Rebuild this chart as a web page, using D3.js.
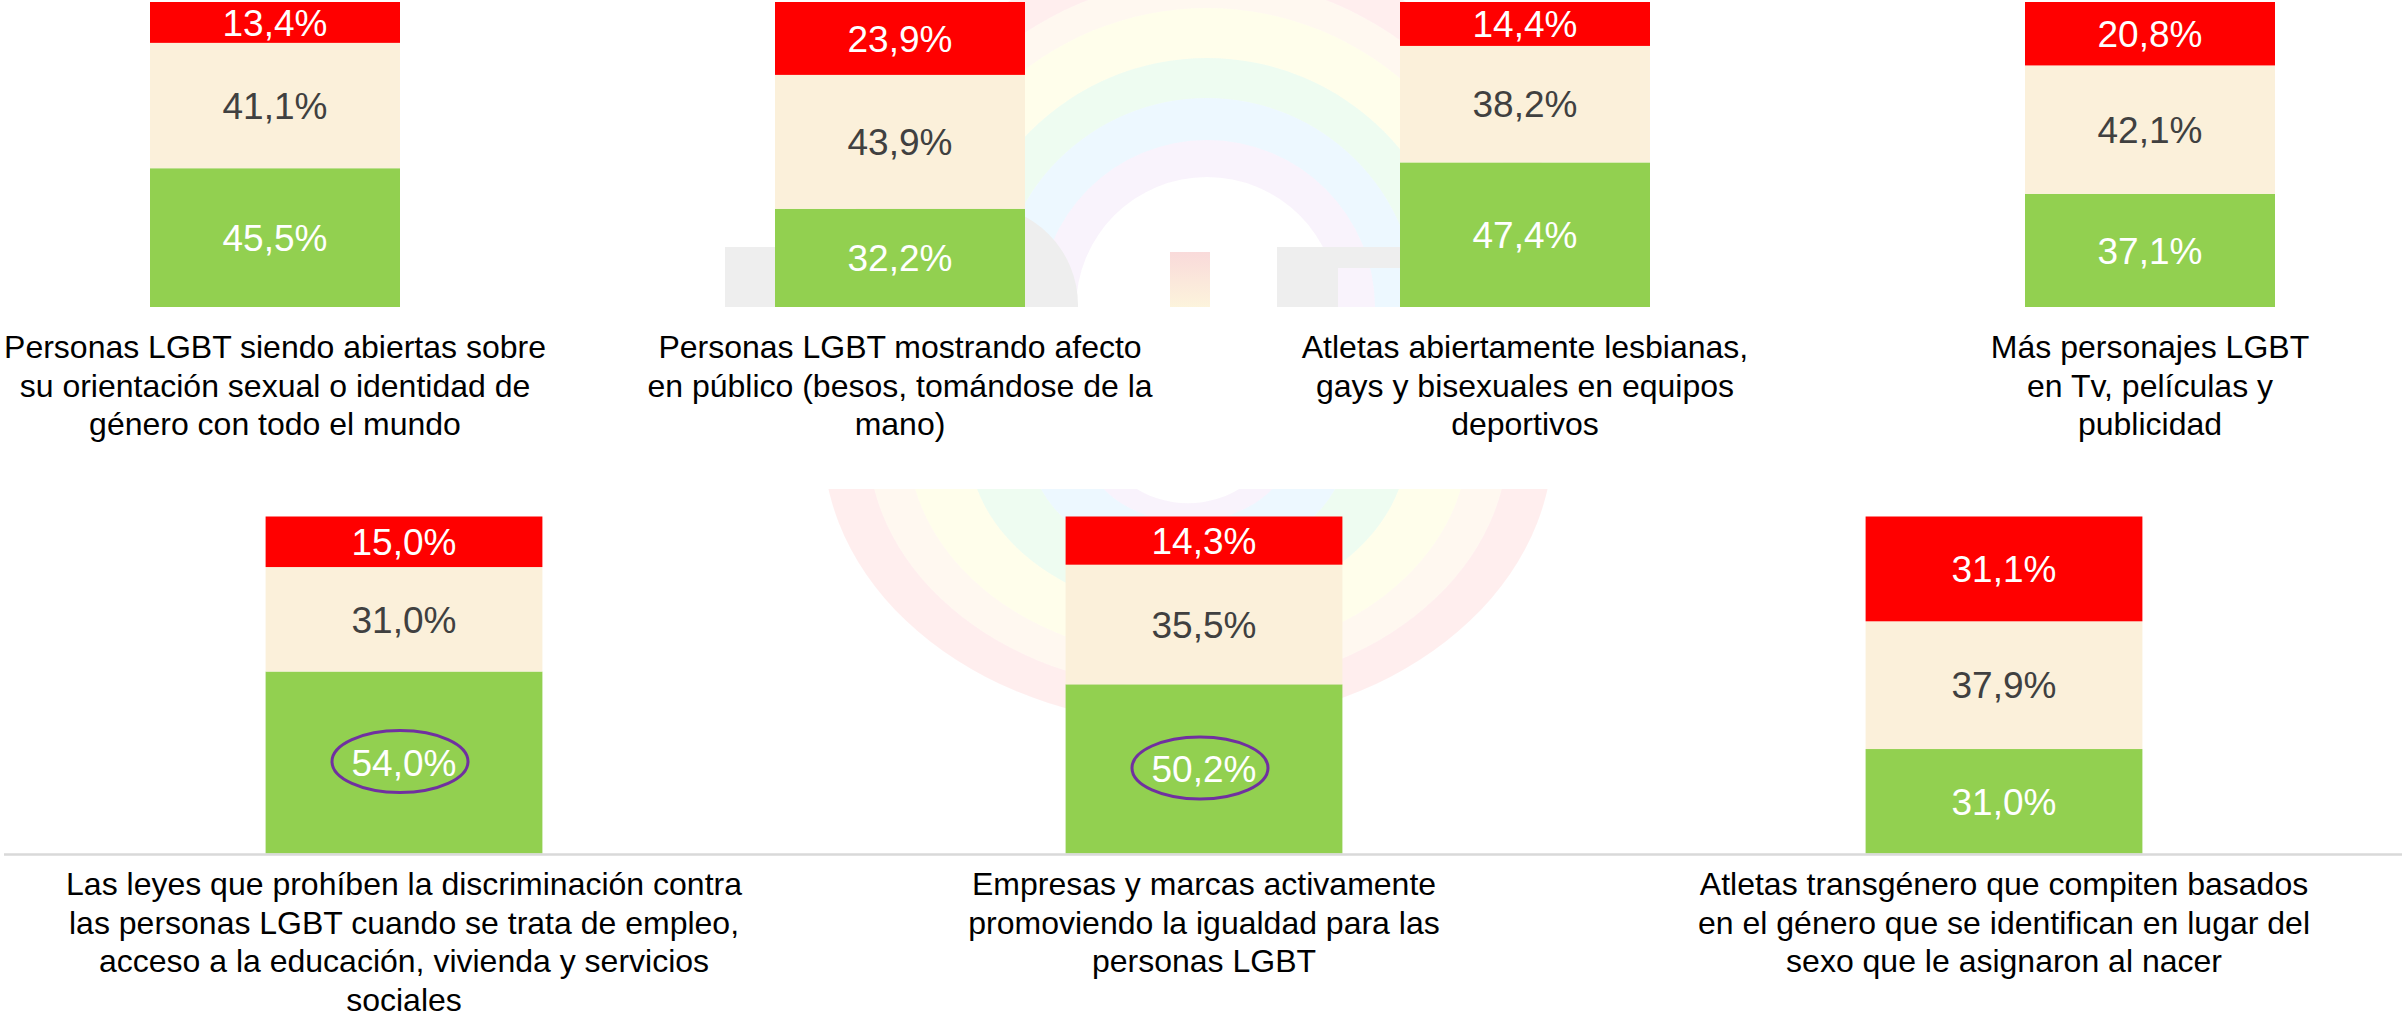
<!DOCTYPE html>
<html>
<head>
<meta charset="utf-8">
<script src="https://cdn.jsdelivr.net/npm/d3@7"></script>
<style>
  body { margin: 0; background: #fff; }
  svg { display: block; font-family: "Liberation Sans", Arial, sans-serif; }
</style>
</head>
<body>
<script>
// top row
const topCategories = [
  ["Personas LGBT siendo abiertas sobre", "su orientación sexual o identidad de", "género con todo el mundo"],
  ["Personas LGBT mostrando afecto", "en público (besos, tomándose de la", "mano)"],
  ["Atletas abiertamente lesbianas,", "gays y bisexuales en equipos", "deportivos"],
  ["Más personajes LGBT", "en Tv, películas y", "publicidad"]
];
const topApoyo = [45.5, 32.2, 47.4, 37.1];
const topNeutral = [41.1, 43.9, 38.2, 42.1];
const topRechazo = [13.4, 23.9, 14.4, 20.8];
const topHighlight = [false, false, false, false];

// bottom row
const bottomCategories = [
  ["Las leyes que prohíben la discriminación contra", "las personas LGBT cuando se trata de empleo,", "acceso a la educación, vivienda y servicios", "sociales"],
  ["Empresas y marcas activamente", "promoviendo la igualdad para las", "personas LGBT"],
  ["Atletas transgénero que compiten basados", "en el género que se identifican en lugar del", "sexo que le asignaron al nacer"]
];
const bottomApoyo = [54.0, 50.2, 31.0];
const bottomNeutral = [31.0, 35.5, 37.9];
const bottomRechazo = [15.0, 14.3, 31.1];
const bottomHighlight = [true, true, false];

const keys = ["apoyo", "neutral", "rechazo"];
const colors = { apoyo: "#92D050", neutral: "#FBF0DA", rechazo: "#FF0000" };
const labelColors = { apoyo: "#ffffff", neutral: "#404040", rechazo: "#ffffff" };

const width = 2402;
const height = 1017;

const svg = d3.select("body").append("svg").attr("width", width).attr("height", height);
const defs = svg.append("defs");

const pct = d3.formatLocale({ decimal: ",", thousands: ".", grouping: [3], currency: ["", ""] }).format(".1f");

// faint background logo (rainbow + letters) behind each plot area
const rainbowColors = ["#ff0000", "#ff8800", "#ffee00", "#00cc33", "#0099ff", "#9933cc"];
const rainbowOpacity = [0.065, 0.06, 0.08, 0.065, 0.07, 0.06];

function rainbow(g, cx, cy, radii, sy) {
  const arc = d3.arc().startAngle(0).endAngle(2 * Math.PI);
  const rg = g.append("g").attr("transform", `translate(${cx},${cy}) scale(1,${sy})`);
  rg.selectAll("path")
    .data(rainbowColors)
    .enter().append("path")
      .attr("d", (c, i) => arc({ innerRadius: radii[i + 1], outerRadius: radii[i] }))
      .attr("fill", c => c)
      .attr("fill-opacity", (c, i) => rainbowOpacity[i]);
}

function clip(id, y0, y1) {
  defs.append("clipPath").attr("id", id)
    .append("rect").attr("x", 0).attr("y", y0).attr("width", width).attr("height", y1 - y0);
  return svg.append("g").attr("clip-path", `url(#${id})`);
}

const wmTop = clip("clipTop", 0, 307);
rainbow(wmTop, 1207, 308, [365, 330, 300, 250, 210, 168, 131], 1);
wmTop.append("path")
  .attr("d", "M725,247H776V420H725Z M878,205H978A100,100 0 0 1 1078,305V420H878Z M1277,247H1400V268H1338V420H1277Z")
  .attr("fill", "#eeeeee");
const iGrad = defs.append("linearGradient").attr("id", "iGrad").attr("x1", 0).attr("y1", 0).attr("x2", 0).attr("y2", 1);
iGrad.append("stop").attr("offset", "0%").attr("stop-color", "#f9dada");
iGrad.append("stop").attr("offset", "100%").attr("stop-color", "#fdf6dc");
wmTop.append("rect").attr("x", 1170).attr("y", 252).attr("width", 40).attr("height", 60).attr("fill", "url(#iGrad)");

const wmBottom = clip("clipBottom", 489, 854);
rainbow(wmBottom, 1188, 440, [365, 320, 280, 220, 160, 105, 81], 0.78);

function drawRow(cfg) {
  const rows = cfg.categories.map((lines, i) => ({
    id: i, lines: lines,
    apoyo: cfg.apoyo[i], neutral: cfg.neutral[i], rechazo: cfg.rechazo[i],
    highlight: cfg.highlight[i]
  }));

  const x = d3.scaleBand()
    .domain(rows.map(d => d.id))
    .range(cfg.xRange)
    .paddingInner(cfg.padding)
    .paddingOuter(cfg.padding / 2);
  const y = d3.scaleLinear().domain([0, 100]).range([cfg.bottom, cfg.top]);

  const series = d3.stack().keys(keys)(rows);
  const g = svg.append("g");

  const layer = g.selectAll("g.layer")
    .data(series)
    .enter().append("g")
      .attr("class", "layer")
      .attr("fill", s => colors[s.key]);

  layer.selectAll("rect")
    .data(s => s)
    .enter().append("rect")
      .attr("x", d => x(d.data.id))
      .attr("width", x.bandwidth())
      .attr("y", d => y(d[1]))
      .attr("height", d => y(d[0]) - y(d[1]));

  if (cfg.axis) {
    g.append("line")
      .attr("x1", cfg.xRange[0]).attr("x2", width)
      .attr("y1", y(0) + 1).attr("y2", y(0) + 1)
      .attr("stroke", "#d9d9d9").attr("stroke-width", 2.5);
  }

  series.forEach(s => {
    g.selectAll(null)
      .data(s)
      .enter().append("text")
        .attr("x", d => x(d.data.id) + x.bandwidth() / 2)
        .attr("y", d => (y(d[0]) + y(d[1])) / 2)
        .attr("dy", "0.36em")
        .attr("text-anchor", "middle")
        .attr("font-size", 37)
        .attr("fill", labelColors[s.key])
        .text(d => pct(d.data[s.key]) + "%");
  });

  // highlighted values get a purple ellipse
  const green = series[0];
  g.selectAll("ellipse")
    .data(green.filter(d => d.data.highlight))
    .enter().append("ellipse")
      .attr("cx", d => x(d.data.id) + x.bandwidth() / 2 - 4)
      .attr("cy", d => (y(d[0]) + y(d[1])) / 2 - 1)
      .attr("rx", 68)
      .attr("ry", 31)
      .attr("fill", "none")
      .attr("stroke", "#7030A0")
      .attr("stroke-width", 3);

  const cat = g.selectAll("text.cat")
    .data(rows)
    .enter().append("text")
      .attr("class", "cat")
      .attr("text-anchor", "middle")
      .attr("font-size", 32)
      .attr("fill", "#000");

  cat.selectAll("tspan")
    .data(d => d.lines.map(t => ({ t: t, cx: x(d.id) + x.bandwidth() / 2 })))
    .enter().append("tspan")
      .attr("x", d => d.cx)
      .attr("y", (d, i) => cfg.labelY + i * 38.6)
      .text(d => d.t);
}

drawRow({
  categories: topCategories, apoyo: topApoyo, neutral: topNeutral, rechazo: topRechazo, highlight: topHighlight,
  xRange: [-37.5, 2462.5], padding: 0.6, top: 2, bottom: 307, labelY: 358, axis: false
});

drawRow({
  categories: bottomCategories, apoyo: bottomApoyo, neutral: bottomNeutral, rechazo: bottomRechazo, highlight: bottomHighlight,
  xRange: [4, 2404], padding: 0.654, top: 516.5, bottom: 853.5, labelY: 895, axis: true
});
</script>
</body>
</html>
